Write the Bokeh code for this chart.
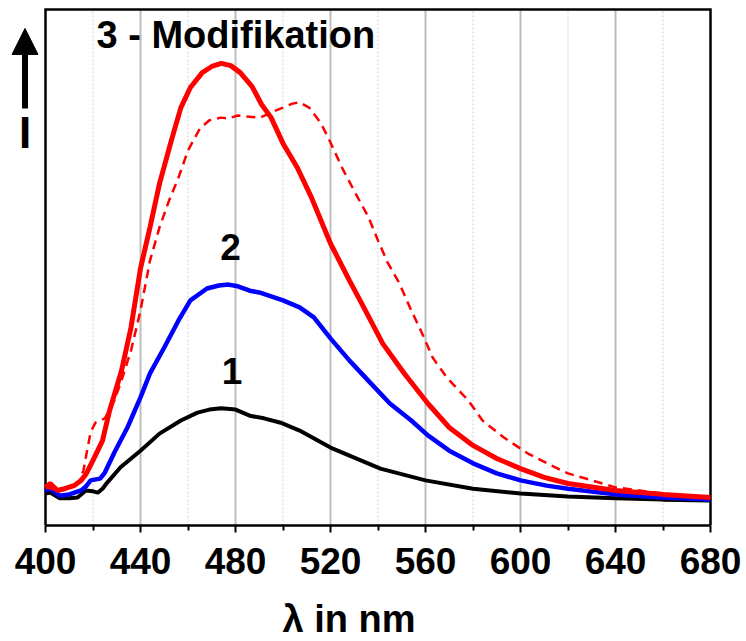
from bokeh.plotting import figure
from bokeh.models import Range1d, FixedTicker, Label, Arrow, NormalHead, Title
from bokeh.embed import file_html
from bokeh.resources import INLINE

# Curve 3 (red solid)
red_x = [400, 402, 405, 408, 412, 415, 417, 420, 424, 427, 432, 436, 440, 444, 448, 453, 457, 461, 466, 470, 474, 478, 482, 487, 491, 495, 500, 506, 512, 520, 528, 534, 542, 551, 561, 570, 580, 590, 600, 610, 620, 640, 660, 680]
red_y = [3.0, 3.9, 2.3, 2.7, 3.4, 4.6, 6.0, 9.2, 13.7, 20.6, 29.7, 39.6, 53.1, 62.5, 72.5, 82.4, 89.9, 94.5, 97.9, 99.3, 100.0, 99.5, 97.9, 94.7, 90.6, 87.6, 81.7, 76.2, 69.3, 58.8, 50.3, 44.2, 35.9, 29.1, 22.2, 16.7, 12.6, 9.6, 7.3, 5.3, 3.9, 2.3, 1.4, 0.7]

# Curve 3 (red dashed)
red2_x = [400, 405, 410, 414, 416, 417.5, 419, 421, 425, 429, 432, 436, 440, 444, 448, 452, 456, 460, 465, 469, 474, 477, 481, 486, 490.5, 495, 500, 504, 507, 511, 516, 520, 525, 531, 536, 540, 544, 549, 554, 558, 563, 569, 578, 584, 593, 603, 613, 620, 640, 660, 680]
red2_y = [3.0, 2.3, 3.0, 4.1, 6.9, 11.4, 15.6, 17.8, 18.8, 22.9, 27.5, 34.3, 43.5, 54.9, 62.5, 68.6, 73.9, 80.1, 85.1, 87.0, 87.6, 87.4, 88.1, 87.8, 87.6, 88.8, 89.9, 90.8, 91.1, 89.9, 86.3, 81.9, 76.0, 69.8, 64.8, 59.5, 54.5, 49.7, 43.5, 38.9, 32.7, 28.1, 22.9, 18.3, 14.4, 10.8, 8.0, 6.2, 3.0, 1.6, 0.7]

# Curve 2 (blue)
blue_x = [400, 402, 406, 410, 415, 417, 419, 423, 425, 427, 429, 434.5, 440, 444, 450, 456, 461, 468, 473, 477, 481, 486, 490, 495, 500, 507, 513, 520, 528, 537, 545, 554, 561, 570, 580, 590, 600, 611, 620, 640, 660, 680]
blue_y = [2.3, 2.7, 1.1, 1.4, 2.3, 3.2, 4.6, 5.0, 6.4, 8.7, 11.0, 16.7, 23.6, 29.1, 35.0, 41.2, 45.8, 48.5, 49.2, 49.4, 49.0, 48.0, 47.6, 46.7, 45.8, 44.2, 41.9, 37.1, 32.0, 26.8, 22.2, 18.3, 14.9, 11.4, 8.5, 6.2, 4.6, 3.4, 2.7, 1.4, 0.7, 0.2]

# Curve 1 (black)
black_x = [400, 402, 406, 410, 413.5, 417, 420, 422, 424, 426, 431.6, 440, 448, 457, 464, 469, 474, 480, 486, 492, 499, 507, 520, 530, 541, 560, 580, 600, 620, 640, 660, 680]
black_y = [1.6, 1.8, 0.5, 0.5, 0.7, 2.3, 2.1, 1.8, 2.7, 4.1, 7.6, 11.4, 15.3, 18.3, 20.1, 20.8, 21.1, 20.8, 19.4, 18.8, 17.8, 16.0, 12.1, 9.8, 7.3, 4.6, 2.7, 1.6, 0.9, 0.5, 0.2, 0.0]

major_ticks = [400, 440, 480, 520, 560, 600, 640, 680]
minor_ticks = [420, 460, 500, 540, 580, 620, 660]
grid_major = [440, 480, 520, 560, 600, 640]

X_MIN, X_MAX = 400, 680          # data extent of the boxed plot area
Y0, Y_TOP = -5.72, 112.34        # bottom axis level and top border level
PX_PER_NM = 2.375
PX_PER_UNIT = 1 / 0.2288

# frame widened slightly so the left arrow / "I" can be drawn as in-frame marks
p = figure(frame_width=742, frame_height=525, output_backend="svg", toolbar_location=None,
           x_range=Range1d(X_MIN - 43 / PX_PER_NM, X_MAX + 34 / PX_PER_NM),
           y_range=Range1d(Y0, Y_TOP + 9 / PX_PER_UNIT),
           min_border_left=2, min_border_right=2, min_border_top=0, min_border_bottom=116)

p.background_fill_color = "white"
p.border_fill_color = "white"
p.outline_line_color = None
p.xgrid.visible = False
p.ygrid.visible = False
p.yaxis.visible = False

ax = p.xaxis[0]
ax.bounds = (X_MIN, X_MAX)
ax.ticker = FixedTicker(ticks=major_ticks, minor_ticks=minor_ticks)
ax.axis_line_width = 2.5
ax.axis_line_color = "black"
ax.major_tick_line_width = 2
ax.minor_tick_line_width = 2
ax.major_tick_out = 7
ax.major_tick_in = 0
ax.minor_tick_out = 5
ax.minor_tick_in = 0
ax.major_label_standoff = 15
ax.major_label_text_font = "Liberation Sans"
ax.major_label_text_font_style = "bold"
ax.major_label_text_font_size = "37px"
ax.major_label_text_color = "black"

# grid lines
for gx in grid_major:
    p.line([gx, gx], [Y0, Y_TOP], line_color="#bdbdbd", line_width=2)
for gx in minor_ticks:
    p.line([gx, gx], [Y0, Y_TOP], line_color="#cfcfcf", line_width=1, line_dash="2 2")

# box border (left, top, right)
p.line([X_MIN, X_MIN, X_MAX, X_MAX], [Y0, Y_TOP, Y_TOP, Y0], line_color="black", line_width=2.5,
       line_join="miter")

p.line(black_x, black_y, line_color="black", line_width=4)
p.line(blue_x, blue_y, line_color="#0000ff", line_width=4.5)
p.line(red2_x, red2_y, line_color="#ff0000", line_width=2.5, line_dash="9 6")
p.line(red_x, red_y, line_color="#ff0000", line_width=5)

lab_font = "Liberation Sans"
DY = 3.4
p.add_layout(Label(x=421.5, y=103.2 + DY, text="3 - Modifikation", text_font=lab_font, text_font_style="bold",
                   text_font_size="38px", text_color="black", text_align="left", text_baseline="alphabetic"))
p.add_layout(Label(x=477.9, y=54.5 + DY, text="2", text_font=lab_font, text_font_style="bold",
                   text_font_size="37px", text_color="black", text_align="center", text_baseline="alphabetic"))
p.add_layout(Label(x=478.5, y=26.3 + DY, text="1", text_font=lab_font, text_font_style="bold",
                   text_font_size="37px", text_color="black", text_align="center", text_baseline="alphabetic"))

# intensity arrow and "I"
AX = 391.37
p.add_layout(Arrow(x_start=AX, y_start=89.7, x_end=AX, y_end=108.0, line_width=6, line_color="black",
                   end=NormalHead(size=26, fill_color="black", line_color="black", line_width=1)))
p.add_layout(Label(x=AX, y=80.8 + DY, text="I", text_font=lab_font, text_font_style="bold",
                   text_font_size="44px", text_color="black", text_align="center", text_baseline="alphabetic"))

# axis title
p.add_layout(Title(text="\u03bb in nm", align="left", offset=280, standoff=39, text_font=lab_font,
                   text_font_style="bold", text_font_size="38px", text_color="black"), "below")

open("out.html", "w").write(file_html(p, INLINE))
